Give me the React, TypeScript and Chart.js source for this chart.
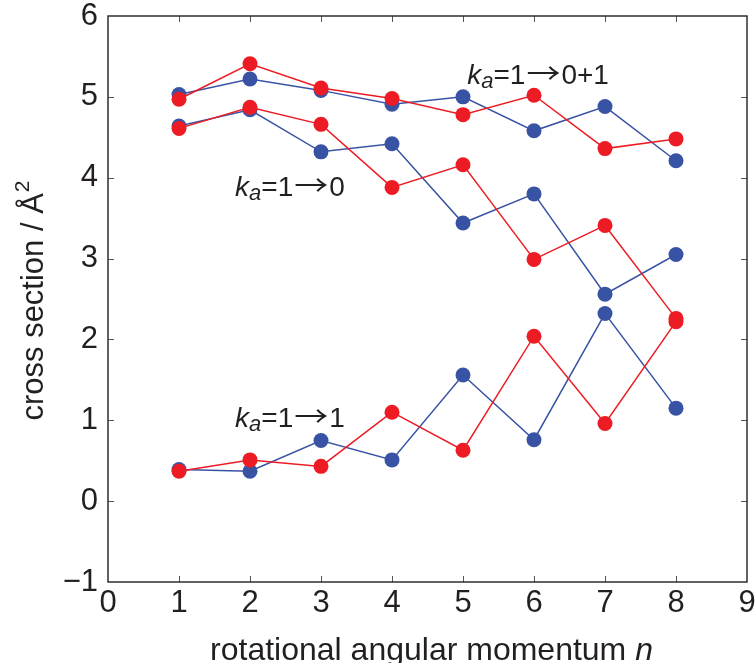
import React, { useEffect, useRef } from "react";
import { Chart, registerables } from "chart.js";

Chart.register(...registerables);

const FONT = "'Liberation Sans', Arial, Helvetica, sans-serif";
const INK = "#231f20";
const RED = "#ed1c24";
const BLUE = "#3953a4";

// rotational angular momentum n
const nValues = [1, 2, 3, 4, 5, 6, 7, 8];
// k_a = 1 -> 0+1
const red01 = [4.97, 5.41, 5.11, 4.98, 4.78, 5.02, 4.36, 4.48];
const blue01 = [5.03, 5.22, 5.08, 4.91, 5.0, 4.58, 4.88, 4.21];
// k_a = 1 -> 0
const red0 = [4.61, 4.87, 4.66, 3.88, 4.16, 2.99, 3.41, 2.26];
const blue0 = [4.64, 4.84, 4.32, 4.42, 3.44, 3.8, 2.56, 3.05];
// k_a = 1 -> 1
const red1 = [0.37, 0.51, 0.43, 1.1, 0.63, 2.04, 0.96, 2.22];
const blue1 = [0.39, 0.37, 0.75, 0.51, 1.56, 0.76, 2.32, 1.15];

const xTicks = [0, 1, 2, 3, 4, 5, 6, 7, 8, 9];
const yTicks = [-1, 0, 1, 2, 3, 4, 5, 6];

const xTitleMain = "rotational angular momentum ";
const xTitleItalic = "n";
const yTitleMain = "cross section / Å";
const yTitleSup = "2";

// annotation: italic "k", subscript "a", then "=1", arrow, tail
const annotationTail = ["0+1", "0", "1"];
const annotationX = [5.06, 1.79, 1.79];
const annotationY = [5.16, 3.78, 0.92];

const toPoints = (ys: number[]) => nValues.map((n, i) => ({ x: n, y: ys[i] }));

const makeSet = (label: string, ys: number[], color: string) => ({
  label,
  data: toPoints(ys),
  showLine: true,
  borderColor: color,
  backgroundColor: color,
  borderWidth: 1.5,
  pointRadius: 7.5,
  pointBorderWidth: 0,
  pointBackgroundColor: color,
  tension: 0,
});

const decorPlugin = {
  id: "decor",
  afterDraw(chart: any) {
    const ctx = chart.ctx;
    const area = chart.chartArea;
    const xs = chart.scales.x;
    const ys = chart.scales.y;
    ctx.save();
    // inward ticks
    ctx.strokeStyle = "#555";
    ctx.lineWidth = 1;
    const tl = 6;
    xTicks.forEach((v) => {
      const px = Math.round(xs.getPixelForValue(v)) + 0.5;
      if (px <= area.left + 1 || px >= area.right - 1) return;
      ctx.beginPath();
      ctx.moveTo(px, area.bottom);
      ctx.lineTo(px, area.bottom - tl);
      ctx.moveTo(px, area.top);
      ctx.lineTo(px, area.top + tl);
      ctx.stroke();
    });
    yTicks.forEach((v) => {
      const py = Math.round(ys.getPixelForValue(v)) + 0.5;
      if (py <= area.top + 1 || py >= area.bottom - 1) return;
      ctx.beginPath();
      ctx.moveTo(area.left, py);
      ctx.lineTo(area.left + tl, py);
      ctx.moveTo(area.right, py);
      ctx.lineTo(area.right - tl, py);
      ctx.stroke();
    });
    // frame
    ctx.strokeStyle = INK;
    ctx.lineWidth = 1.4;
    ctx.strokeRect(area.left, area.top, area.right - area.left, area.bottom - area.top);

    ctx.fillStyle = INK;
    ctx.textBaseline = "alphabetic";
    ctx.textAlign = "left";

    // x title
    ctx.font = `32px ${FONT}`;
    const w1 = ctx.measureText(xTitleMain).width;
    ctx.font = `italic 32px ${FONT}`;
    const w2 = ctx.measureText(xTitleItalic).width;
    const cx = (area.left + area.right) / 2 + 4;
    const by = chart.height - 3;
    const sx = cx - (w1 + w2) / 2;
    ctx.font = `32px ${FONT}`;
    ctx.fillText(xTitleMain, sx, by);
    ctx.font = `italic 32px ${FONT}`;
    ctx.fillText(xTitleItalic, sx + w1, by);

    // y title (rotated)
    ctx.save();
    const cy = (area.top + area.bottom) / 2 + 2;
    ctx.translate(43, cy);
    ctx.rotate(-Math.PI / 2);
    ctx.font = `31px ${FONT}`;
    const yw1 = ctx.measureText(yTitleMain).width;
    ctx.font = `21px ${FONT}`;
    const yw2 = ctx.measureText(yTitleSup).width;
    const ysx = -(yw1 + yw2) / 2;
    ctx.font = `31px ${FONT}`;
    ctx.fillText(yTitleMain, ysx, 0);
    ctx.font = `21px ${FONT}`;
    ctx.fillText(yTitleSup, ysx + yw1 + 1, -14);
    ctx.restore();

    // annotations
    annotationTail.forEach((tail, i) => {
      let x = xs.getPixelForValue(annotationX[i]);
      const y = ys.getPixelForValue(annotationY[i]);
      ctx.font = `italic 28px ${FONT}`;
      ctx.fillText("k", x, y);
      x += ctx.measureText("k").width;
      ctx.font = `italic 22px ${FONT}`;
      ctx.fillText("a", x, y + 4);
      x += ctx.measureText("a").width;
      ctx.font = `28px ${FONT}`;
      ctx.fillText("=1", x, y);
      x += ctx.measureText("=1").width;
      // long thin arrow glyph, stretched horizontally
      ctx.save();
      ctx.font = `28px 'Noto Sans CJK JP', ${FONT}`;
      const aw = ctx.measureText("→").width;
      const target = 34;
      ctx.translate(x + 1, y);
      ctx.scale(target / aw, 1);
      ctx.fillText("→", 0, 0);
      ctx.restore();
      x += target + 2;
      ctx.font = `28px ${FONT}`;
      ctx.fillText(tail, x, y);
    });
    ctx.restore();
  },
};

export default function App() {
  const ref = useRef<HTMLCanvasElement | null>(null);
  useEffect(() => {
    if (!ref.current) return;
    const chart = new Chart(ref.current, {
      type: "scatter",
      data: {
        datasets: [
          makeSet("red 1→0+1", red01, RED),
          makeSet("red 1→0", red0, RED),
          makeSet("red 1→1", red1, RED),
          makeSet("blue 1→0+1", blue01, BLUE),
          makeSet("blue 1→0", blue0, BLUE),
          makeSet("blue 1→1", blue1, BLUE),
        ],
      },
      options: {
        animation: false,
        responsive: false,
        events: [],
        layout: { padding: { top: 16, right: 9, left: 0, bottom: 0 } },
        plugins: { legend: { display: false }, tooltip: { enabled: false } },
        scales: {
          x: {
            type: "linear",
            min: 0,
            max: 9,
            grid: { display: false, drawTicks: false },
            border: { display: false },
            afterBuildTicks: (s: any) => {
              s.ticks = xTicks.map((v) => ({ value: v }));
            },
            afterFit: (s: any) => {
              s.height = 81;
              s.paddingLeft = 0;
              s.paddingRight = 0;
            },
            ticks: {
              padding: 3,
              color: INK,
              maxRotation: 0,
              autoSkip: false,
              font: { family: FONT, size: 31 },
            },
            title: { display: false },
          },
          y: {
            type: "linear",
            min: -1,
            max: 6,
            grid: { display: false, drawTicks: false },
            border: { display: false },
            afterBuildTicks: (s: any) => {
              s.ticks = yTicks.map((v) => ({ value: v }));
            },
            afterFit: (s: any) => {
              s.width = 108;
              s.paddingTop = 0;
              s.paddingBottom = 0;
            },
            ticks: {
              padding: 10,
              color: INK,
              autoSkip: false,
              font: { family: FONT, size: 31 },
              callback: (v: any) => (v < 0 ? "−" + Math.abs(v) : String(v)),
            },
            title: { display: false },
          },
        },
      },
      plugins: [decorPlugin],
    });
    return () => chart.destroy();
  }, []);
  return (
    <div style={{ position: "fixed", left: 0, top: 0, width: 756, height: 663, background: "#fff" }}>
      <canvas ref={ref} width={756} height={663} />
    </div>
  );
}
